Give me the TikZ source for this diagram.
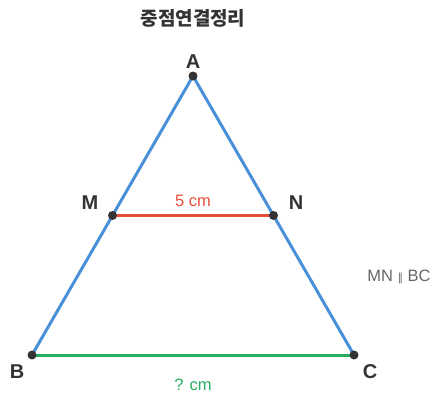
\documentclass[tikz,border=0pt]{standalone}
\usepackage{fontspec}
\setmainfont{Liberation Sans}
\newfontfamily\kofont{Noto Sans CJK KR}
\newfontfamily\symfont{DejaVu Sans}
\usepackage{xcolor}
\usetikzlibrary{positioning, calc}
\definecolor{side}{RGB}{74,144,217}
\definecolor{midl}{RGB}{231,76,60}
\definecolor{basel}{RGB}{39,174,96}
\definecolor{ink}{RGB}{51,51,51}
\definecolor{note}{RGB}{102,102,102}
\tikzset{
  seg/.style={line width=3pt, line cap=round},
  pt/.style={circle, fill=ink, inner sep=0pt, minimum size=9pt},
  vlab/.style={font=\fontsize{20}{22}\selectfont\bfseries, text=ink, inner sep=1pt},
  len/.style={font=\fontsize{16.5}{18}\selectfont, inner sep=1pt}
}

\begin{document}
\begin{tikzpicture}[x=1pt, y=-1pt]
  \useasboundingbox (0,0) rectangle (431,399);
  \node[font=\kofont\fontsize{19}{22}\selectfont\bfseries, text=ink] (title) at (193,18) {중점연결정리};
  % vertices and midpoints
  \coordinate (A) at (193,76);
  \coordinate (B) at (32,355);
  \coordinate (C) at (354,355);
  \coordinate (M) at ($(A)!0.5!(B)$);
  \coordinate (N) at ($(A)!0.5!(C)$);
  \draw[seg, side] (B) -- (A) -- (C);
  \draw[seg, basel] (B) -- (C);
  \draw[seg, midl] (M) -- (N);
  \foreach \p in {A,B,C,M,N} \node[pt] (d\p) at (\p) {};
  \node[vlab] (lA) at (193,62) {A};
  \node[vlab] (lB) at (17,372) {B};
  \node[vlab] (lC) at (370,372) {C};
  \node[vlab] (lM) at (90,203) {M};
  \node[vlab] (lN) at (296,203) {N};
  \node[len, text=midl] (mn) at (193,201) {5 cm};
  \node[len, text=basel] (bc) at (193,385) {? cm};
  \node[len, text=note] (par) at (399,277) {MN {\symfont\fontsize{11}{13}\selectfont ∥} BC};
\end{tikzpicture}
\end{document}
